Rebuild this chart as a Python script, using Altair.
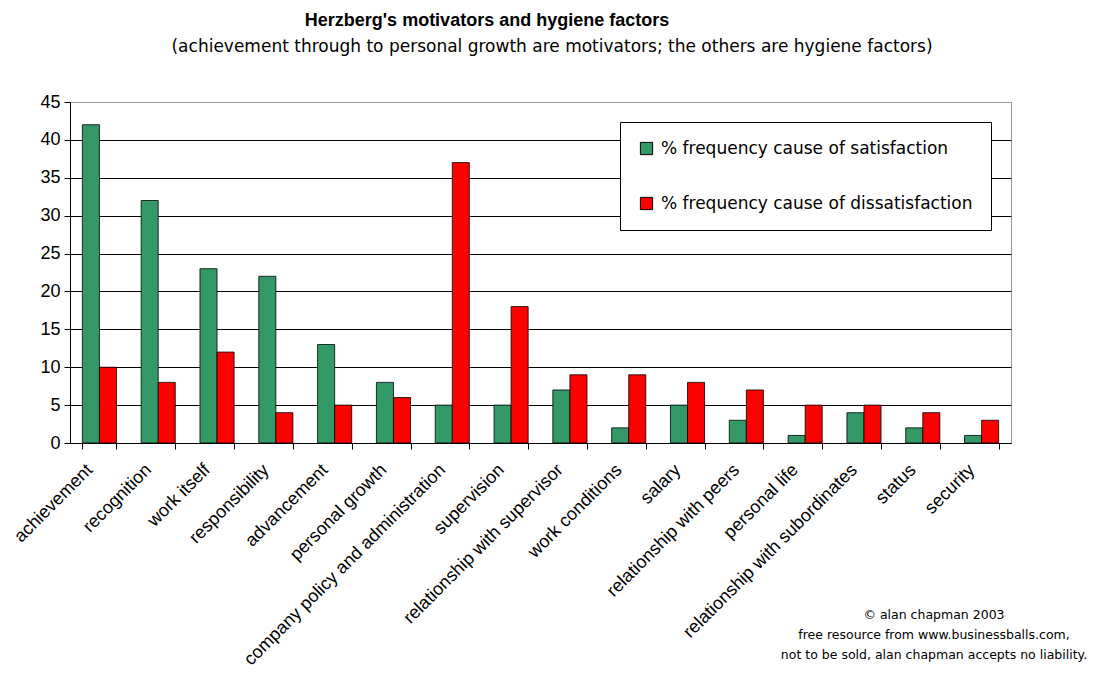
import altair as alt
import pandas as pd

categories = [
    "achievement", "recognition", "work itself", "responsibility", "advancement",
    "personal growth", "company policy and administration", "supervision",
    "relationship with supervisor", "work conditions", "salary",
    "relationship with peers", "personal life", "relationship with subordinates",
    "status", "security",
]
satisfaction = [42, 32, 23, 22, 13, 8, 5, 5, 7, 2, 5, 3, 1, 4, 2, 1]
dissatisfaction = [10, 8, 12, 4, 5, 6, 37, 18, 9, 9, 8, 7, 5, 5, 4, 3]
series_names = ["% frequency cause of satisfaction", "% frequency cause of dissatisfaction"]
series_colors = ["#339966", "#ff0000"]
y_ticks = [0, 5, 10, 15, 20, 25, 30, 35, 40, 45]

title_text = "Herzberg's motivators and hygiene factors"
subtitle_text = "(achievement through to personal growth are motivators; the others are hygiene factors)"
footer_text = "© alan chapman 2003\nfree resource from www.businessballs.com,\nnot to be sold, alan chapman accepts no liability."

rows = []
for c, s, d in zip(categories, satisfaction, dissatisfaction):
    rows.append({"factor": c, "series": series_names[0], "value": s})
    rows.append({"factor": c, "series": series_names[1], "value": d})
df = pd.DataFrame(rows)

W, H = 941, 341

bars = alt.Chart(df).mark_bar(stroke="#000000", strokeWidth=0.8).encode(
    x=alt.X(
        "factor:N",
        sort=categories,
        scale=alt.Scale(paddingInner=0.42, paddingOuter=0.21),
        axis=alt.Axis(
            title=None,
            labelAngle=-45,
            labelAlign="right",
            labelBaseline="middle",
            labelFont="Liberation Sans",
            labelFontSize=18,
            labelColor="#000000",
            labelLimit=500,
            labelPadding=18,
            labelOffset=-10,
            tickBand="extent",
            tickColor="#000000",
            tickSize=6,
            domainColor="#000000",
            grid=False,
        ),
    ),
    xOffset=alt.XOffset("series:N", sort=series_names, scale=alt.Scale(paddingInner=0, paddingOuter=0)),
    y=alt.Y(
        "value:Q",
        scale=alt.Scale(domain=[0, 45], nice=False),
        axis=alt.Axis(
            title=None,
            values=y_ticks,
            labelFont="Liberation Sans",
            labelFontSize=18,
            labelColor="#000000",
            labelPadding=4,
            tickColor="#000000",
            tickSize=6,
            domainColor="#000000",
            grid=True,
            gridColor=alt.condition("datum.value == 45", alt.value("#999999"), alt.value("#000000")),
            gridWidth=1,
        ),
    ),
    color=alt.Color(
        "series:N",
        sort=series_names,
        scale=alt.Scale(domain=series_names, range=series_colors),
        legend=alt.Legend(
            title=None,
            orient="none",
            legendX=550,
            legendY=20,
            fillColor="#ffffff",
            strokeColor="#000000",
            padding=18,
            rowPadding=37,
            symbolType="square",
            symbolSize=150,
            symbolStrokeColor="#000000",
            symbolStrokeWidth=1,
            labelFont="DejaVu Sans",
            labelFontSize=17,
            labelColor="#000000",
            labelLimit=500,
            labelOffset=6,
        ),
    ),
)

title = alt.Chart(pd.DataFrame({"t": [title_text]})).mark_text(
    font="Liberation Sans", fontWeight="bold", fontSize=18, color="#000000",
    align="center", baseline="middle",
).encode(text="t:N", x=alt.value(417), y=alt.value(-81))

subtitle = alt.Chart(pd.DataFrame({"t": [subtitle_text]})).mark_text(
    font="DejaVu Sans", fontSize=17, color="#000000",
    align="center", baseline="middle",
).encode(text="t:N", x=alt.value(482), y=alt.value(-55))

footer = alt.Chart(pd.DataFrame({"t": [footer_text]})).mark_text(
    font="DejaVu Sans", fontSize=12.5, color="#000000",
    align="center", baseline="middle", lineBreak="\n", lineHeight=20,
).encode(text="t:N", x=alt.value(864), y=alt.value(513))

chart = alt.layer(bars, title, subtitle, footer).properties(
    width=W,
    height=H,
    padding={"left": 62, "top": 94, "right": 80, "bottom": 230},
    autosize=alt.AutoSizeParams(type="none"),
    background="#ffffff",
).configure_view(stroke="#999999", strokeWidth=1)

chart.save("out.html", embed_options={"renderer": "svg", "actions": False})
